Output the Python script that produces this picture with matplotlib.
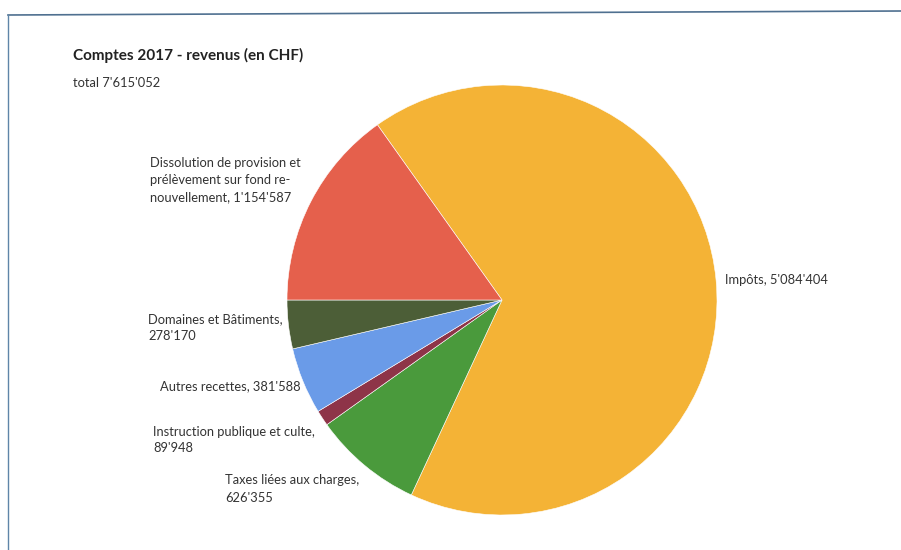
import matplotlib.pyplot as plt

# Data
labels = ["Impôts", "Taxes liées aux charges", "Instruction publique et culte",
          "Autres recettes", "Domaines et Bâtiments",
          "Dissolution de provision et prélèvement sur fond renouvellement"]
values = [5084404, 626355, 89948, 381588, 278170, 1154587]
colors = ["#F4B336", "#4A9A3C", "#8E3448", "#6A9BE8", "#4C5E37", "#E5604C"]

W, H = 901, 550
fig = plt.figure(figsize=(W / 100, H / 100), dpi=100)
ax = fig.add_axes([0, 0, 1, 1])
plt.rcParams['font.family'] = ['Lato', 'DejaVu Sans']


def Y(y):
    return H - y


total = sum(values)
start = 180 - 360 * values[-1] / total
ax.pie(values, colors=colors, startangle=start, counterclock=False,
       center=(502, Y(300)), radius=215,
       wedgeprops=dict(edgecolor="white", linewidth=0.4))
ax.set_xlim(0, W)
ax.set_ylim(0, H)
ax.set_aspect('equal')
ax.axis('off')

# frame lines of the scanned page
ax.plot([8, W], [Y(15), Y(11)], color="#4F7090", lw=1.2)
ax.plot([8, 8], [Y(15), Y(550)], color="#5F85A8", lw=1.0)

txt = "#333333"
fs = 9.3
ax.text(73, Y(55), "Comptes 2017 - revenus (en CHF)", fontsize=11,
        fontweight="bold", color="#222222", va="center")
ax.text(73, Y(83), "total 7'615'052", fontsize=fs, color=txt, va="center")


def fmt(v):
    return f"{v:,}".replace(",", "'")


def lab(x, y, s):
    ax.text(x, Y(y), s, fontsize=fs, color=txt, va="center", ha="left",
            linespacing=1.5)


lab(150, 180, "Dissolution de provision et\nprélèvement sur fond re-\nnouvellement, " + fmt(values[5]))
lab(725, 280, "Impôts, " + fmt(values[0]))
lab(148, 328, "Domaines et Bâtiments,\n" + fmt(values[4]))
lab(160, 386, "Autres recettes, " + fmt(values[3]))
lab(153, 440, "Instruction publique et culte,\n" + fmt(values[2]))
lab(225, 489, "Taxes liées aux charges,\n" + fmt(values[1]))

fig.savefig("out.png", dpi=100)
